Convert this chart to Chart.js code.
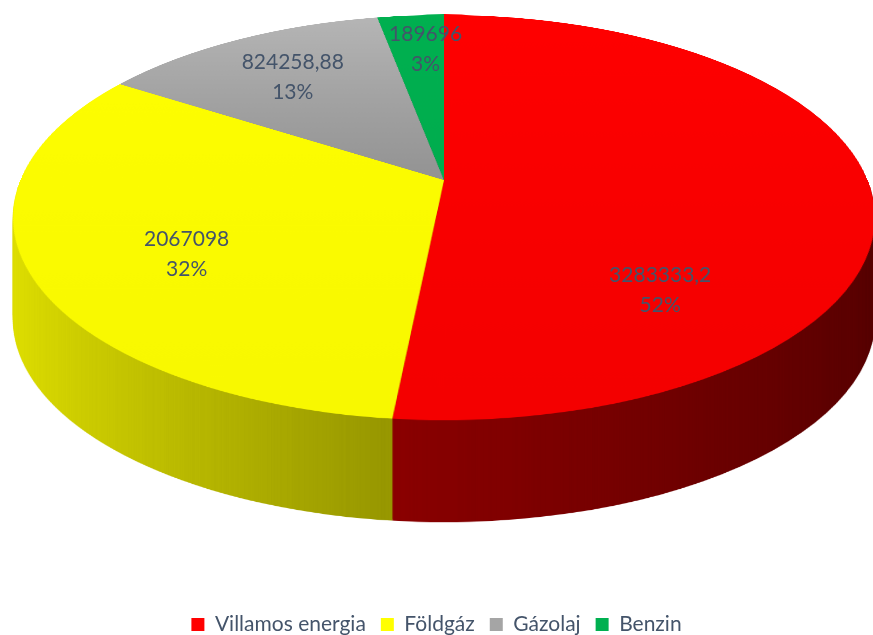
<!DOCTYPE html>
<html>
<head>
<meta charset="utf-8">
<script src="https://cdn.jsdelivr.net/npm/chart.js@4.4.0/dist/chart.umd.min.js"></script>
<style>
  html, body { margin: 0; padding: 0; background: #fff; }
  #wrap { width: 873px; height: 635px; }
</style>
</head>
<body>
<div id="wrap"><canvas id="myChart" width="873" height="635"></canvas></div>
<script>
/* adatok */
const categories = ['Villamos energia', 'Földgáz', 'Gázolaj', 'Benzin'];
const values = [3283333.2, 2067098, 824258.88, 189696];

/* szinek */
const topColors = ['#ff0000', '#ffff00', '#a5a5a5', '#00b050'];
const topShade = [['#ff0000', '#f40000'], ['#ffff00', '#f8f800'], ['#b6b6b6', '#939393'], ['#00b050', '#00aa4c']];
const sideColors = [['#8c0000', '#560000'], ['#e2e200', '#989800'], ['#8a8a8a', '#6a6a6a'], ['#009040', '#006a30']];
const sideRange = [[393, 873], [11, 393], [11, 444], [380, 444]];

/* perspektiva: kozeppont, sugarak, dolesszog (k), magassag */
const P = { cx: 444, cy: 180, rx0: 423.5, ry0: 195.6, k: 0.1852, rxMax: 431, depth: 102 };
const labelNudge = [[-39, 104], [-17, 21], [-21, -14], [3, -26]];
const labelColor = '#44546A';

const total = values.reduce((s, v) => s + v, 0);
const S = 1000;

function proj(u, v) {
  const w = 1 - P.k * v;
  return [P.cx + P.rx0 * u / w, P.cy + P.ry0 * v / w];
}
function rowToV(Y) {
  const yc = Y - P.cy;
  return yc / (P.ry0 + P.k * yc);
}

// kor kepe -> perspektivikus ellipszis, soronkent
function projectImage(img, target) {
  const y0 = Math.floor(P.cy - P.ry0 / (1 + P.k));
  const y1 = Math.ceil(P.cy + P.ry0 / (1 - P.k));
  for (let Y = y0; Y <= y1; Y++) {
    let va = rowToV(Y), vb = rowToV(Y + 1);
    if (vb < -1 || va > 1) continue;
    va = Math.max(va, -1); vb = Math.min(vb, 1);
    const vm = (va + vb) / 2;
    const half = P.rx0 / (1 - P.k * vm);
    const sy = (va + 1) / 2 * S;
    const sh = Math.max((vb - va) / 2 * S, 0.5);
    target.drawImage(img, 0, sy, S, sh, P.cx - half, Y, 2 * half, 1);
  }
}

function renderArcs(chart, fills) {
  const arcs = chart.getDatasetMeta(0).data;
  const R = arcs[0].outerRadius, ax = arcs[0].x, ay = arcs[0].y;
  const off = document.createElement('canvas');
  off.width = S; off.height = S;
  const oc = off.getContext('2d');
  oc.translate(S / 2, S / 2);
  oc.scale((S / 2) / R, (S / 2) / R);
  oc.translate(-ax, -ay);
  arcs.forEach((a, i) => {
    const o = a.options;
    a.options = Object.assign({}, o, { backgroundColor: fills(oc, i, ax, ay, R) });
    a.draw(oc);
    a.options = o;
  });
  return off;
}

const pie3dPlugin = {
  id: 'pie3d',
  beforeDatasetsDraw(chart) {
    const ctx = chart.ctx;
    const W = chart.width, H = chart.height;

    // oldalfal
    const sideImg = renderArcs(chart, (oc, i, ax, ay, R) => {
      const x0 = ax + (sideRange[i][0] - P.cx) / P.rxMax * R;
      const x1 = ax + (sideRange[i][1] - P.cx) / P.rxMax * R;
      const g = oc.createLinearGradient(x0, 0, x1, 0);
      g.addColorStop(0, sideColors[i][0]);
      g.addColorStop(1, sideColors[i][1]);
      return g;
    });
    const band = document.createElement('canvas');
    band.width = W; band.height = H;
    projectImage(sideImg, band.getContext('2d'));
    for (let d = P.depth; d >= 1; d--) ctx.drawImage(band, 0, d);

    // teteje
    const topImg = renderArcs(chart, (oc, i, ax, ay, R) => {
      const g = oc.createLinearGradient(0, ay - R, 0, i === 2 ? ay : ay + R);
      g.addColorStop(0, topShade[i][0]);
      g.addColorStop(1, topShade[i][1]);
      return g;
    });
    projectImage(topImg, ctx);
    return false;
  },
  afterDraw(chart) {
    const ctx = chart.ctx;
    const arcs = chart.getDatasetMeta(0).data;
    ctx.save();
    ctx.font = '21px Lato';
    ctx.fillStyle = labelColor;
    ctx.textAlign = 'center';
    ctx.textBaseline = 'middle';
    arcs.forEach((a, i) => {
      const mid = (a.startAngle + a.endAngle) / 2;
      const [px, py] = proj(0.6 * Math.cos(mid), 0.6 * Math.sin(mid));
      const x = px + labelNudge[i][0];
      const y = py + labelNudge[i][1];
      const txt = String(values[i]).replace('.', ',');
      const pct = Math.round(values[i] / total * 100) + '%';
      ctx.fillText(txt, x, y - 15);
      ctx.fillText(pct, x, y + 15);
    });
    ctx.restore();
  }
};

const ctx = document.getElementById('myChart').getContext('2d');
const myChart = new Chart(ctx, {
  type: 'pie',
  data: {
    labels: categories,
    datasets: [{
      data: values,
      backgroundColor: topColors,
      borderWidth: 0
    }]
  },
  options: {
    responsive: false,
    animation: false,
    events: [],
    layout: { padding: { bottom: -10 } },
    plugins: {
      tooltip: { enabled: false },
      legend: {
        position: 'bottom',
        labels: {
          boxWidth: 13,
          boxHeight: 13,
          padding: 15,
          color: labelColor,
          font: { family: 'Lato', size: 21 }
        }
      }
    }
  },
  plugins: [pie3dPlugin]
});
</script>
</body>
</html>
